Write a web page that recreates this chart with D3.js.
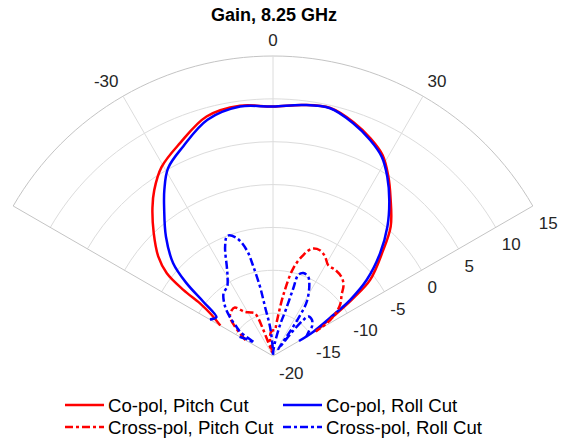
<!DOCTYPE html>
<meta charset="utf-8">
<style>
body { margin: 0; background: #fff; }
svg { font-family: Arial, "Liberation Sans", sans-serif; }
.grid path { fill: none; stroke: #dcdcdc; stroke-width: 1px; }
.grid .edge { stroke: #c4c4c4; }
.tick text { fill: #262626; font-size: 17px; }
.legend text { fill: #000; font-size: 18.6px; }
</style>
<body></body>
<script src="https://cdnjs.cloudflare.com/ajax/libs/d3/7.8.5/d3.min.js"></script>
<script>

// angles in degrees, gain in dB
var coPitchAng  = [-60, -56.2, -54.2, -53.6, -52.1, -49.1, -44.1, -39.1, -35.6, -30.5, -23.6, -15.5, -7.5, 0, 6.9, 13, 19, 24.2, 28.6, 32.5, 36.7, 42.3, 46.5, 51.9, 54.2, 56.2, 58.5, 60];
var coPitchGain = [-12.9, -11.4, -9.5, -7.0, -4.3, -2.3, 0.0, 2.3, 3.8, 5.6, 7.1, 9.0, 9.45, 9.1, 9.5, 9.7, 8.85, 7.8, 6.7, 5.0, 2.95, 0.4, -2.4, -5.6, -8.4, -11.0, -13.4, -14.3];

var coRollAng  = [-60, -58, -55.6, -52.1, -49.9, -47.1, -41.9, -36.4, -33.2, -29.2, -23.2, -15.5, -7.5, 0, 6.9, 13, 19, 24.2, 28.6, 32.5, 36.7, 41.5, 46.2, 50.9, 54, 55.8, 58.9, 60];
var coRollGain = [-11.5, -11.8, -12.0, -9.7, -6.8, -4.1, -1.3, 1.4, 3.15, 5.1, 6.6, 8.6, 9.35, 9.1, 9.5, 9.66, 8.72, 7.63, 6.49, 4.81, 2.7, 0.14, -2.7, -5.9, -8.9, -11.5, -14.5, -16.5];

var xPitchAng  = [-60, -55.5, -52.4, -47.6, -41.9, -38.2, -32.6, -27, -22.9, -21.3, -20.5, -19.6, -17, -14, -10, -5, 0, 4, 6.2, 9.6, 13, 16.7, 19.9, 23.9, 27.6, 31.3, 35.8, 40.9, 44.7, 48.4, 52, 55.2, 58.5, 60];
var xPitchGain = [-16.3, -15.3, -14.4, -13.2, -12.8, -12.8, -13.9, -14.3, -14.6, -15.3, -16.5, -17.8, -19.2, -19.5, -18, -17.2, -17, -17, -16, -12.8, -9.5, -7.7, -6.7, -6.5, -6.9, -7.6, -7.6, -7.8, -8.3, -9.3, -10.0, -10.95, -12.5, -14.2];

var xRollAng  = [-60, -57, -54.5, -53.6, -51.5, -48.9, -44.2, -38.4, -33.4, -30, -27.4, -23.7, -20.8, -17.1, -13.9, -12.4, -10.6, -9.2, -5.8, -2, 0, 3, 8, 12.7, 15.5, 16.7, 17.3, 20.1, 24, 27.1, 31.8, 33.9, 35, 36.5, 38.5, 40.1, 41.9, 47.1, 52.9, 56, 60];
var xRollGain = [-15.5, -16.5, -17.3, -15.2, -14.6, -13.6, -12.0, -10.7, -10.3, -9.4, -8.3, -6.1, -5.0, -5.6, -7.3, -9.3, -11.8, -14.2, -16.6, -19, -20, -19.5, -18.5, -16.3, -14.4, -11.75, -10.1, -9.7, -9.9, -10.7, -12.5, -14.7, -17, -19, -16.5, -14.5, -13.8, -13.8, -14.3, -15, -15.5];

var thetaTicks = [-30, 0, 30];
var rTicks = [-20, -15, -10, -5, 0, 5, 10, 15];

var series = [
  {name: "Co-pol, Pitch Cut",    ang: coPitchAng, gain: coPitchGain, color: "#ff0000", dash: null},
  {name: "Co-pol, Roll Cut",     ang: coRollAng,  gain: coRollGain,  color: "#0000ff", dash: null},
  {name: "Cross-pol, Pitch Cut", ang: xPitchAng,  gain: xPitchGain,  color: "#ff0000", dash: "8,3,3,3"},
  {name: "Cross-pol, Roll Cut",  ang: xRollAng,   gain: xRollGain,   color: "#0000ff", dash: "8,3,3,3"}
];

var W = 569, H = 442;
var cx = 273, cy = 356, R = 300;

var svg = d3.select("body").append("svg")
    .attr("width", W)
    .attr("height", H);

var r = d3.scaleLinear().domain([-20, 15]).range([0, R]);
var rad = function(d) { return d * Math.PI / 180; };

var g = svg.append("g").attr("transform", "translate(" + cx + "," + cy + ")");

// grid rings
var grid = g.append("g").attr("class", "grid");
rTicks.slice(1).forEach(function(v) {
  var p = d3.path();
  var rr = r(v);
  p.moveTo(rr * Math.cos(rad(-150)), rr * Math.sin(rad(-150)));
  p.arc(0, 0, rr, rad(-150), rad(-30));
  grid.append("path").attr("d", p.toString())
    .attr("class", v == 15 ? "edge" : null);
});

// spokes
[-60, -30, 0, 30, 60].forEach(function(t) {
  grid.append("path")
    .attr("d", d3.lineRadial()([[0, 0], [rad(t), R]]))
    .attr("class", Math.abs(t) == 60 ? "edge" : null);
});

// theta labels
var tl = g.append("g").attr("class", "tick");
thetaTicks.forEach(function(t) {
  var a = rad(t);
  tl.append("text")
    .attr("x", 309 * Math.sin(a))
    .attr("y", -309 * Math.cos(a) - 1)
    .attr("text-anchor", t < 0 ? "end" : t > 0 ? "start" : "middle")
    .text(t);
});

// r labels along the 60 deg edge
rTicks.forEach(function(v) {
  var a = rad(60);
  tl.append("text")
    .attr("x", r(v) * Math.sin(a) + 6)
    .attr("y", -r(v) * Math.cos(a) + 23)
    .text(v);
});

// curves
var line = d3.lineRadial()
    .angle(function(d) { return rad(d[0]); })
    .radius(function(d) { return r(Math.max(-20, d[1])); })
    .curve(d3.curveCatmullRom.alpha(0.5));

series.forEach(function(s) {
  var pts = s.ang.map(function(a, i) { return [a, s.gain[i]]; });
  g.append("path")
    .attr("d", line(pts))
    .attr("fill", "none")
    .attr("stroke", s.color)
    .attr("stroke-width", 2.5)
    .attr("stroke-dasharray", s.dash);
});

// title
svg.append("text")
    .attr("x", 274)
    .attr("y", 21)
    .attr("text-anchor", "middle")
    .style("font-weight", "bold")
    .style("font-size", "18px")
    .text("Gain, 8.25 GHz");

// legend
var legend = svg.append("g").attr("class", "legend");
var lx = [65, 283], ly = [405, 427];
series.forEach(function(s, i) {
  var x = lx[i % 2], y = ly[Math.floor(i / 2)];
  legend.append("line")
    .attr("x1", x).attr("x2", x + 39)
    .attr("y1", y).attr("y2", y)
    .attr("stroke", s.color)
    .attr("stroke-width", 2.5)
    .attr("stroke-dasharray", s.dash);
  legend.append("text")
    .attr("x", x + 43)
    .attr("y", y + 6.5)
    .text(s.name);
});

</script>
